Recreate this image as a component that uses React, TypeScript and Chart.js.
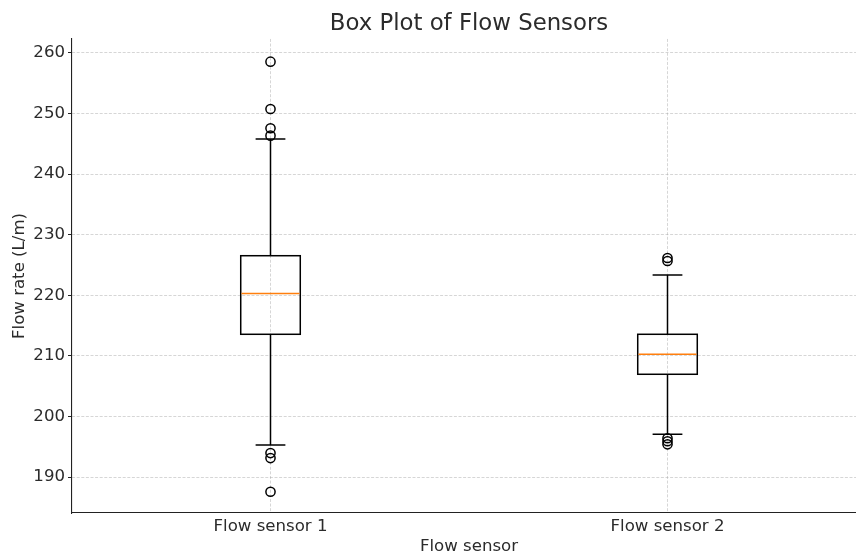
import React, { useEffect, useRef } from "react";
import { Chart, registerables } from "chart.js";

Chart.register(...registerables);

// ---- data ----
const categories = ["Flow sensor 1", "Flow sensor 2"];
const positions = [1, 2];
const whiskerLow = [195.3, 197.05];
const q1 = [213.56, 206.96];
const median = [220.3, 210.26];
const q3 = [226.53, 213.56];
const whiskerHigh = [245.8, 223.35];
const outliers1 = [258.56, 250.75, 247.57, 246.35, 193.96, 193.13, 187.57];
const outliers2 = [226.15, 225.66, 196.4, 195.9, 195.4];
const yTicks = [190, 200, 210, 220, 230, 240, 250, 260];

const BOX_WIDTH = 0.15;
const AXES_RIGHT = 866; // matplotlib axes extends past the canvas edge
const FONT = "'DejaVu Sans', sans-serif";
const TEXT = "#2b2b2b";
const LABEL_SIZE = 16.6;

const extendAreaPlugin = {
  id: "extendArea",
  afterLayout(chart: any) {
    const ca = chart.chartArea;
    ca.right = AXES_RIGHT;
    ca.width = AXES_RIGHT - ca.left;
    const x = chart.scales.x;
    x.right = AXES_RIGHT;
    x.width = AXES_RIGHT - x.left;
    x.configure();
    const tb = chart.titleBlock;
    if (tb) {
      tb.left = ca.left;
      tb.right = AXES_RIGHT;
      tb.width = AXES_RIGHT - ca.left;
    }
  },
};

const boxPlugin = {
  id: "boxplotDraw",
  beforeDatasetsDraw(chart: any) {
    const { ctx } = chart;
    const x = chart.scales.x;
    const y = chart.scales.y;
    ctx.save();
    positions.forEach((p, i) => {
      const cx = x.getPixelForValue(p);
      const left = x.getPixelForValue(p - BOX_WIDTH / 2);
      const right = x.getPixelForValue(p + BOX_WIDTH / 2);
      const capL = x.getPixelForValue(p - BOX_WIDTH / 4);
      const capR = x.getPixelForValue(p + BOX_WIDTH / 4);
      const yLo = y.getPixelForValue(whiskerLow[i]);
      const yQ1 = y.getPixelForValue(q1[i]);
      const yMed = y.getPixelForValue(median[i]);
      const yQ3 = y.getPixelForValue(q3[i]);
      const yHi = y.getPixelForValue(whiskerHigh[i]);

      ctx.strokeStyle = "#000";
      ctx.lineWidth = 1.5;
      ctx.setLineDash([]);
      ctx.beginPath();
      ctx.moveTo(cx, yQ3);
      ctx.lineTo(cx, yHi);
      ctx.moveTo(cx, yQ1);
      ctx.lineTo(cx, yLo);
      ctx.moveTo(capL, yHi);
      ctx.lineTo(capR, yHi);
      ctx.moveTo(capL, yLo);
      ctx.lineTo(capR, yLo);
      ctx.stroke();

      ctx.strokeRect(left, yQ3, right - left, yQ1 - yQ3);

      ctx.strokeStyle = "#ff7f0e";
      ctx.lineWidth = 1.6;
      ctx.beginPath();
      ctx.moveTo(left + 0.75, yMed);
      ctx.lineTo(right - 0.75, yMed);
      ctx.stroke();
    });
    ctx.restore();
  },
};

export default function App() {
  const canvasRef = useRef<HTMLCanvasElement | null>(null);

  useEffect(() => {
    if (!canvasRef.current) return;
    const outlierStyle = {
      pointStyle: "circle",
      pointRadius: 4.6,
      pointHoverRadius: 4.6,
      pointBorderColor: "#000",
      pointBackgroundColor: "rgba(0,0,0,0)",
      pointBorderWidth: 1.5,
      showLine: false,
    };
    const chart = new Chart(canvasRef.current, {
      type: "scatter",
      data: {
        datasets: [
          {
            label: categories[0],
            data: outliers1.map((v) => ({ x: positions[0], y: v })),
            ...outlierStyle,
          } as any,
          {
            label: categories[1],
            data: outliers2.map((v) => ({ x: positions[1], y: v })),
            ...outlierStyle,
          } as any,
        ],
      },
      options: {
        animation: false,
        responsive: false,
        events: [],
        layout: { padding: 0 },
        plugins: {
          legend: { display: false },
          tooltip: { enabled: false },
          title: {
            display: true,
            text: "Box Plot of Flow Sensors",
            color: TEXT,
            fullSize: false,
            font: { family: FONT, size: 22.8, weight: "normal", lineHeight: 1.2 },
            padding: { top: 10, bottom: 1.6 },
          },
        },
        scales: {
          x: {
            type: "linear",
            min: 0.5,
            max: 2.5,
            afterBuildTicks: (scale: any) => {
              scale.ticks = positions.map((v) => ({ value: v }));
            },
            afterFit: (scale: any) => {
              scale.height = 42;
              scale.paddingLeft = 0;
              scale.paddingRight = 0;
            },
            ticks: {
              color: TEXT,
              font: { family: FONT, size: LABEL_SIZE },
              padding: 4,
              maxRotation: 0,
              autoSkip: false,
              callback: (v: any) => {
                const idx = positions.indexOf(Number(v));
                return idx >= 0 ? categories[idx] : "";
              },
            },
            grid: {
              color: "rgba(160,160,160,0.55)",
              lineWidth: 0.8,
              drawTicks: false,
            },
            border: { display: true, color: "#222", width: 1.1, dash: [3, 1.6] },
            title: {
              display: true,
              text: "Flow sensor",
              color: TEXT,
              font: { family: FONT, size: LABEL_SIZE, lineHeight: 1.0 },
              padding: { top: 0, bottom: 0 },
            },
          },
          y: {
            type: "linear",
            min: 184.06,
            max: 262.31,
            afterBuildTicks: (scale: any) => {
              scale.ticks = yTicks.map((v) => ({ value: v }));
            },
            afterFit: (scale: any) => {
              scale.width = 72;
              scale.paddingTop = 0;
              scale.paddingBottom = 0;
            },
            ticks: {
              color: TEXT,
              font: { family: FONT, size: LABEL_SIZE },
              padding: 3,
              autoSkip: false,
            },
            grid: {
              color: "rgba(160,160,160,0.55)",
              lineWidth: 0.8,
              drawTicks: true,
              tickLength: 4,
              tickColor: "#222",
              tickWidth: 1,
              tickBorderDash: [],
            },
            border: { display: true, color: "#222", width: 1.1, dash: [3, 1.6] },
            title: {
              display: true,
              text: "Flow rate (L/m)",
              color: TEXT,
              font: { family: FONT, size: LABEL_SIZE, lineHeight: 1.2 },
              padding: { top: 10, bottom: 0 },
            },
          },
        },
      } as any,
      plugins: [extendAreaPlugin, boxPlugin],
    });
    return () => chart.destroy();
  }, []);

  return (
    <div style={{ position: "absolute", left: 0, top: 0, width: 856, height: 555, background: "#fff" }}>
      <canvas ref={canvasRef} width={856} height={555} style={{ display: "block" }} />
    </div>
  );
}
